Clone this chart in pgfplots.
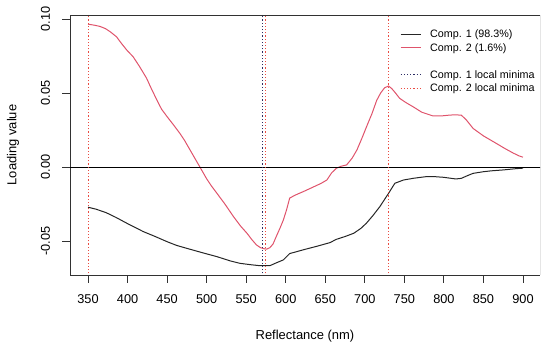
\documentclass[border=0pt]{standalone}
\usepackage{fontspec}
\setmainfont{Liberation Sans}
\usepackage{pgfplots}
\pgfplotsset{compat=1.18}
\definecolor{cred}{RGB}{223,83,107}
\definecolor{vred}{RGB}{235,75,65}
\definecolor{vnavy}{RGB}{45,45,100}
\definecolor{axgray}{RGB}{50,50,50}
\begin{document}
\begin{tikzpicture}
\useasboundingbox (0,0) rectangle (550bp,344bp);
\begin{axis}[
  at={(70bp,69bp)}, anchor=south west,
  scale only axis, width=470bp, height=260bp,
  xmin=327.2, xmax=921.5, ymin=-0.073, ymax=0.1027,
  xtick={350,400,...,900},
  ytick={-0.05,0,0.05,0.1},
  yticklabels={-0.05,0.00,0.05,0.10},
  /pgf/number format/assume math mode=true,
  tick align=outside, axis x line*=bottom, axis y line*=left,
  axis line style={axgray, line width=0.9bp},
  every tick/.style={axgray, line width=0.9bp},
  major tick length=7.7bp,
  tick label style={font=\fontsize{12.8}{14}\selectfont},
  xticklabel style={anchor=north, inner ysep=12bp},
  yticklabel style={rotate=90, anchor=south, inner ysep=12bp},
  label style={font=\fontsize{13}{15}\selectfont},
  xlabel={Reflectance (nm)},
  ylabel={Loading value},
  xlabel style={at={(axis description cs:0.5,-0.236)}, anchor=center},
  ylabel style={at={(axis description cs:-0.1213,0.5)}, anchor=center},
  legend cell align=left,
  legend image code/.code={\draw[#1] (0bp,0bp) -- (20bp,0bp);},
  legend style={at={(axis description cs:0.7021,0.948)}, anchor=north west,
    draw=none, fill=none, inner sep=0pt, row sep=2.5bp,
    font=\fontsize{10.8}{13}\selectfont,
    nodes={inner sep=0pt, text height=9bp, text depth=2bp},
    /tikz/every odd column/.append style={column sep=9bp}},
]
% top and right frame lines
\draw[axgray, line width=0.9bp] (rel axis cs:0,1) -- (rel axis cs:1,1) -- (rel axis cs:1,0);
\addplot[black!85, line width=1bp] coordinates {
(350,-0.0272) (360,-0.0285) (373,-0.0309) (385,-0.034) (399,-0.038) (410,-0.041)
(420,-0.0437) (435,-0.047) (450,-0.0505) (462,-0.053) (475,-0.055) (495,-0.058)
(513,-0.0606) (530,-0.0635) (542,-0.0651) (555,-0.066) (567,-0.0667) (580,-0.0667)
(588,-0.0648) (597,-0.0628) (605,-0.0585) (612,-0.0575) (622,-0.056) (640,-0.0535)
(656,-0.0511) (664,-0.0489) (675,-0.047) (686,-0.0448) (695,-0.0415) (702,-0.038)
(710,-0.033) (719,-0.0268) (730,-0.0178) (738,-0.011) (749,-0.0088) (762,-0.0076)
(778,-0.0065) (790,-0.0066) (800,-0.007) (815,-0.0081) (822,-0.0077) (830,-0.0058)
(837,-0.0043) (850,-0.0032) (860,-0.0026) (875,-0.002) (890,-0.0012) (900,-0.0008)
};
\addlegendentry{Comp. 1 (98.3\%)}
\addplot[cred, line width=1bp] coordinates {
(350,0.0965) (358,0.0958) (365,0.0950) (372,0.0935) (378,0.0914) (386,0.088)
(393,0.083) (399,0.079) (407,0.0745) (415,0.068) (424,0.060) (430,0.053)
(437,0.0453) (443,0.039) (450,0.034) (458,0.0285) (466,0.0228) (472,0.018)
(479,0.0115) (486,0.005) (492,-0.0005) (500,-0.008) (506,-0.0128) (513,-0.0178)
(523,-0.025) (534,-0.0336) (543,-0.040) (551,-0.0448) (557,-0.049) (563,-0.0527)
(568,-0.0545) (572,-0.0552) (576,-0.0555) (580,-0.0545) (584,-0.052) (588,-0.047)
(593,-0.041) (597,-0.0358) (601,-0.029) (605,-0.021) (612,-0.019) (622,-0.0167)
(635,-0.0135) (645,-0.011) (652,-0.0088) (658,-0.004) (664,-0.0009) (670,0.0005)
(677,0.0014) (684,0.006) (690,0.0115) (696,0.019) (702,0.027) (709,0.036)
(715,0.045) (720,0.050) (725,0.0535) (730,0.0547) (734,0.0530) (738,0.0505)
(744,0.0464) (752,0.0435) (761,0.0407) (772,0.037) (786,0.0345) (797,0.0345)
(808,0.0351) (816,0.0352) (822,0.035) (828,0.032) (837,0.026) (850,0.021)
(866,0.016) (878,0.0122) (888,0.0093) (895,0.0075) (900,0.0066)
};
\addlegendentry{Comp. 2 (1.6\%)}
\addlegendimage{empty legend}
\addlegendentry{}
\addplot[black, line width=0.9bp, forget plot] coordinates {(300,0) (950,0)};
\addplot[vnavy, line width=1bp, dash pattern=on 1.2bp off 2bp] coordinates {(570,-0.1) (570,0.12)};
\addlegendentry{Comp. 1 local minima}
\addplot[vred, line width=1bp, dash pattern=on 1.2bp off 2bp] coordinates {(350,-0.1) (350,0.12)};
\addlegendentry{Comp. 2 local minima}
\addplot[vred, line width=1bp, dash pattern=on 1.2bp off 2bp, forget plot] coordinates {(575,-0.1) (575,0.12)};
\addplot[vred, line width=1bp, dash pattern=on 1.2bp off 2bp, forget plot] coordinates {(730,-0.1) (730,0.12)};
\end{axis}
\end{tikzpicture}
\end{document}
